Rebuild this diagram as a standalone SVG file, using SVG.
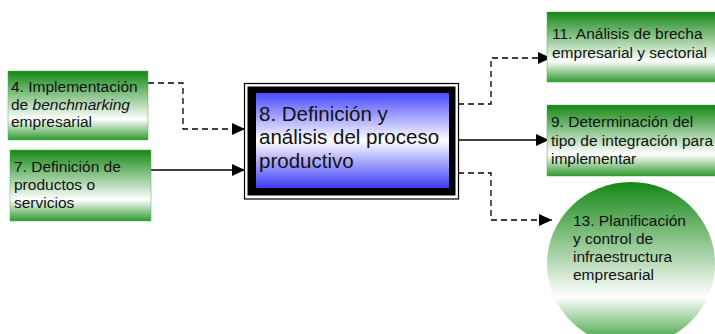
<svg xmlns="http://www.w3.org/2000/svg" width="715" height="334" viewBox="0 0 715 334">
<defs>
<linearGradient id="gGreen" x1="0" y1="0" x2="0" y2="1">
<stop offset="0" stop-color="#148714"/>
<stop offset="0.7" stop-color="#ffffff"/>
<stop offset="1" stop-color="#2e9a2e"/>
</linearGradient>
<linearGradient id="gBlue" x1="0" y1="0" x2="0" y2="1">
<stop offset="0" stop-color="#4a4aff"/>
<stop offset="0.5" stop-color="#ffffff"/>
<stop offset="1" stop-color="#3c3cf5"/>
</linearGradient>
<marker id="arr" markerUnits="userSpaceOnUse" markerWidth="14" markerHeight="12" refX="13" refY="6" orient="auto">
<path d="M0,0 L13,6 L0,12 Z" fill="#000"/>
</marker>
<style>
.box{fill:url(#gGreen);stroke:#5aa85a;stroke-width:0.5}
.t{font-family:"Liberation Sans",Arial,sans-serif;font-size:15.5px;fill:#111}
.tc{font-family:"Liberation Sans",Arial,sans-serif;font-size:20.5px;fill:#111}
.c{fill:none;stroke:#000;stroke-width:1.3}
.d{stroke-dasharray:6 4}
</style>
</defs>
<g id="connectors">
<path class="c d" d="M148,83 H183 V129 H245" marker-end="url(#arr)"/>
<path class="c" d="M151,170 H245" marker-end="url(#arr)"/>
<path class="c d" d="M458,104 H491 V58 H551" marker-end="url(#arr)"/>
<path class="c" d="M458,140 H549" marker-end="url(#arr)"/>
<path class="c d" d="M458,173 H491 V220 H552" marker-end="url(#arr)"/>
</g>
<g id="n4">
<rect class="box" x="8" y="71" width="140" height="69"/>
<text class="t" x="11" y="92">4. Implementación</text>
<text class="t" x="11" y="110">de <tspan font-style="italic">benchmarking</tspan></text>
<text class="t" x="11" y="127">empresarial</text>
</g>
<g id="n7">
<rect class="box" x="10" y="150" width="141" height="71"/>
<text class="t" x="14" y="172">7. Definición de</text>
<text class="t" x="14" y="190">productos o</text>
<text class="t" x="14" y="208">servicios</text>
</g>
<g id="n8">
<rect x="244.5" y="83.5" width="214" height="115.5" fill="#fff" stroke="#000" stroke-width="1.2"/>
<rect x="247.5" y="86.5" width="208" height="109" fill="#000"/>
<rect x="256" y="93" width="193" height="95" fill="url(#gBlue)"/>
<text class="tc" x="259" y="121">8. Definición y</text>
<text class="tc" x="259" y="144">análisis del proceso</text>
<text class="tc" x="259" y="168">productivo</text>
</g>
<g id="n11">
<rect class="box" x="547" y="12" width="170" height="70"/>
<text class="t" x="552" y="39">11. Análisis de brecha</text>
<text class="t" x="552" y="58">empresarial y sectorial</text>
</g>
<g id="n9">
<rect class="box" x="547" y="105" width="170" height="71"/>
<text class="t" x="551" y="127">9. Determinación del</text>
<text class="t" x="551" y="146">tipo de integración para</text>
<text class="t" x="551" y="164">implementar</text>
</g>
<g id="n13">
<ellipse cx="631" cy="264" rx="84" ry="82" fill="url(#gGreen)"/>
<text class="t" x="573" y="226">13. Planificación</text>
<text class="t" x="573" y="244">y control de</text>
<text class="t" x="573" y="262">infraestructura</text>
<text class="t" x="573" y="280">empresarial</text>
</g>
</svg>
